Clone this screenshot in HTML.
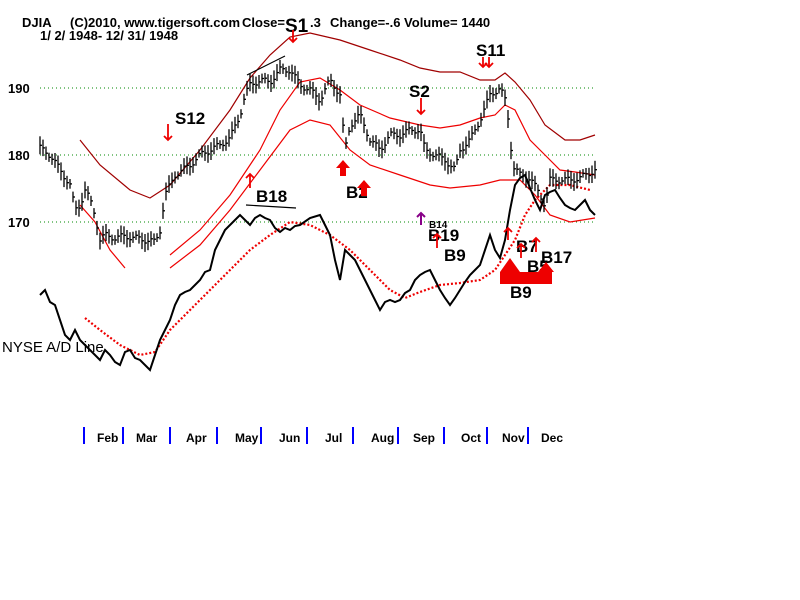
<!DOCTYPE html>
<html><head><style>
body{margin:0;background:#fff;width:800px;height:600px;overflow:hidden}
svg{position:absolute;left:0;top:0}
text{font-family:"Liberation Sans",Arial,sans-serif}
</style></head><body>
<svg id="s" width="800" height="600" xmlns="http://www.w3.org/2000/svg">
<g stroke="#080" stroke-dasharray="1,3" stroke-width="1">
<line x1="40" y1="88" x2="595" y2="88"/><line x1="40" y1="155" x2="595" y2="155"/><line x1="40" y1="222" x2="595" y2="222"/>
</g>
<g font-size="13" font-weight="bold" fill="#000">
<text x="22" y="27">DJIA</text><text x="70" y="27">(C)2010, www.tigersoft.com</text>
<text x="242" y="27">Close=</text><text x="310" y="27">.3</text><text x="330" y="27">Change=-.6  Volume= 1440</text>
<text x="40" y="40">1/ 2/ 1948- 12/ 31/ 1948</text>
<text x="8" y="93">190</text><text x="8" y="160">180</text><text x="8" y="227">170</text>
</g>
<g fill="none" stroke-width="1.2">
<polyline stroke="#a00000" points="80,140 100,165 130,190 150,198 170,185 200,150 230,110 250,78 270,55 290,37 310,33 340,40 370,50 400,60 420,68 440,72 460,72 480,80 495,80 505,73 515,82 530,100 545,125 565,140 580,140 595,135"/>
<polyline stroke="#e00" points="170,255 200,230 230,195 260,150 280,110 300,82 320,78 340,90 360,105 390,118 420,125 440,128 460,125 480,118 495,115 505,105 515,110 530,140 545,155 560,170 575,172 595,175"/>
<polyline stroke="#e00" points="80,205 95,222 110,250 125,268"/>
<polyline stroke="#e00" points="170,268 200,245 230,210 260,170 290,130 310,120 330,125 350,150 370,165 400,175 430,185 450,188 480,185 500,180 520,180 535,195 550,215 570,222 595,218"/>
<polyline stroke="#e00" stroke-width="2.2" stroke-dasharray="2,2" points="85,318 100,330 120,345 140,355 155,352 170,330 190,310 210,290 230,270 250,250 270,235 290,222 310,225 330,235 350,250 370,270 390,290 405,298 420,292 440,285 460,283 480,280 495,270 505,255 515,240 525,215 535,200 550,185 570,185 590,190"/>
<polyline stroke="#000" stroke-width="2" points="40,295 45,290 50,302 55,305 60,320 65,335 70,340 75,330 80,340 85,345 90,350 95,355 100,360 105,350 110,355 115,362 120,365 125,352 130,350 135,358 140,360 145,365 150,370 155,355 160,340 165,330 170,320 175,305 180,295 185,292 190,290 195,285 200,280 205,272 210,270 215,250 220,240 225,230 230,225 235,220 240,215 245,220 250,225 255,218 260,215 265,218 270,220 275,228 280,232 285,228 290,230 295,226 300,225 310,218 320,215 325,225 330,235 335,260 340,280 345,250 350,255 355,260 360,270 365,280 370,290 375,300 380,310 385,302 390,300 395,302 400,300 405,293 410,290 415,280 420,275 425,272 430,270 435,280 440,290 445,298 450,305 455,298 460,290 465,282 470,275 475,270 480,265 485,250 490,235 495,250 500,258 505,240 510,210 515,185 520,178 525,175 530,188 535,200 540,210 545,195 550,192 555,190 560,198 565,205 570,208 575,210 580,205 585,200 590,210 595,215"/>
<line x1="247" y1="75" x2="285" y2="56" stroke="#000"/><line x1="246" y1="205" x2="296" y2="208" stroke="#000"/>
</g>
<g id="bars" stroke="#000" stroke-width="1.3"></g>
<g stroke="#00f" stroke-width="2">
<line x1="84" y1="427" x2="84" y2="444"/><line x1="123" y1="427" x2="123" y2="444"/><line x1="170" y1="427" x2="170" y2="444"/><line x1="217" y1="427" x2="217" y2="444"/><line x1="261" y1="427" x2="261" y2="444"/><line x1="307" y1="427" x2="307" y2="444"/><line x1="353" y1="427" x2="353" y2="444"/><line x1="398" y1="427" x2="398" y2="444"/><line x1="444" y1="427" x2="444" y2="444"/><line x1="487" y1="427" x2="487" y2="444"/><line x1="528" y1="427" x2="528" y2="444"/>
</g>
<g font-size="12" font-weight="bold" fill="#000">
<text x="97" y="442">Feb</text><text x="136" y="442">Mar</text><text x="186" y="442">Apr</text><text x="235" y="442">May</text><text x="279" y="442">Jun</text><text x="325" y="442">Jul</text><text x="371" y="442">Aug</text><text x="413" y="442">Sep</text><text x="461" y="442">Oct</text><text x="502" y="442">Nov</text><text x="541" y="442">Dec</text>
</g>
<text x="2" y="352" font-size="15" fill="#000">NYSE A/D Line</text>
<g font-size="17" font-weight="bold" fill="#000">
<text x="285" y="32" font-size="19">S1</text><text x="175" y="124">S12</text><text x="409" y="97">S2</text><text x="476" y="56">S11</text>
<text x="256" y="202">B18</text><text x="346" y="198">B2</text><text x="428" y="241">B19</text><text x="444" y="261">B9</text>
<text x="516" y="252">B7</text><text x="527" y="272">B5</text><text x="541" y="263">B17</text><text x="510" y="298">B9</text>
<text x="429" y="228" font-size="10">B14</text>
</g>
<g stroke="#e00" stroke-width="1.8" fill="none">
<path d="M293,30v12M289,38l4,4l4,-4"/><path d="M168,124v16M164,136l4,4l4,-4"/><path d="M421,98v16M417,110l4,4l4,-4"/>
<path d="M483,57v10M479,63l4,4l4,-4M489,57v10M485,63l4,4l4,-4"/>
<path d="M250,188v-14M246,178l4,-4l4,4"/><path d="M437,248v-14M433,238l4,-4l4,4"/>
<path d="M508,240v-12M504,232l4,-4l4,4"/><path d="M521,258v-14M517,248l4,-4l4,4"/><path d="M536,252v-14M532,242l4,-4l4,4"/>
</g>
<path d="M421,225v-12M417,217l4,-4l4,4" stroke="#808" stroke-width="2" fill="none"/>
<g fill="#e00">
<path d="M336,168l7,-8l7,8h-4v8h-6v-8z"/><path d="M357,188l7,-8l7,8h-4v8h-6v-8z"/>
<path d="M500,272l10,-14l10,14h-4v10h-12v-10z"/><rect x="500" y="272" width="52" height="12"/><path d="M538,272l8,-10l8,10z"/>
</g>
</svg>
<script>
var pts=[[40,148],[50,155],[60,170],[70,185],[75,210],[80,205],[85,190],[90,200],[95,215],[100,240],[105,235],[115,238],[125,236],[135,238],[145,240],[155,242],[160,230],[165,195],[175,175],[190,165],[200,155],[210,150],[220,145],[230,138],[240,115],[245,95],[250,85],[260,80],[270,82],[280,70],[290,70],[300,85],[310,90],[320,100],[330,80],[340,95],[345,150],[350,125],[360,115],[370,140],[380,150],[390,135],[400,135],[410,130],[420,130],[425,150],[435,155],[445,160],[455,170],[460,150],[470,140],[480,120],[490,95],[500,88],[505,100],[510,130],[512,165],[520,175],[530,178],[540,195],[545,205],[550,180],[560,180],[570,180],[580,178],[595,170]];
function y(x){for(var i=1;i<pts.length;i++){if(x<=pts[i][0]){var a=pts[i-1],b=pts[i];return a[1]+(b[1]-a[1])*(x-a[0])/(b[0]-a[0]);}}return 170;}
var g=document.getElementById('bars'),h='';
for(var x=40;x<=595;x+=3){var c=y(x)+Math.sin(x*1.7)*3,r=4+Math.abs(Math.sin(x*0.9))*5;
h+='<line x1="'+x+'" y1="'+(c-r).toFixed(1)+'" x2="'+x+'" y2="'+(c+r).toFixed(1)+'"/><line x1="'+x+'" y1="'+c.toFixed(1)+'" x2="'+(x+2)+'" y2="'+c.toFixed(1)+'"/>';}
g.innerHTML=h;
</script>
</body></html>
